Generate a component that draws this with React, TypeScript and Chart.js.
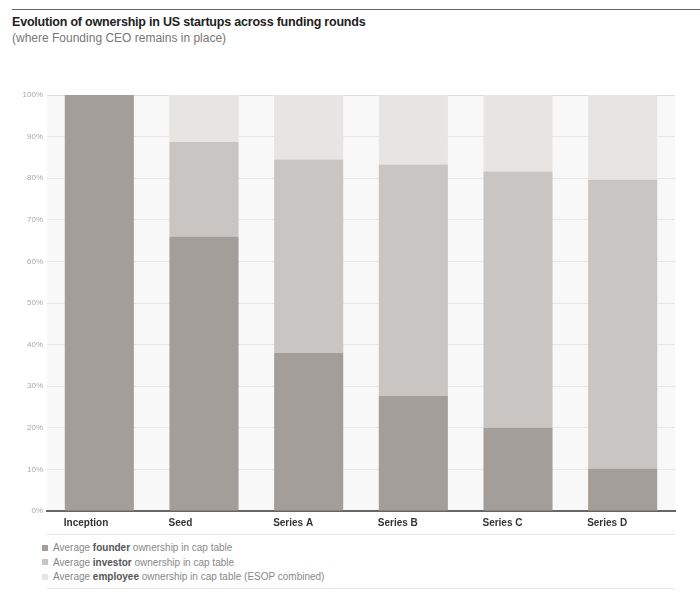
import React, { useEffect, useRef } from "react";
import { Chart, registerables } from "chart.js";

Chart.register(...registerables);

const categories = ["Inception", "Seed", "Series A", "Series B", "Series C", "Series D"];
const founderShare = [100, 66, 38, 27.7, 20, 10.2];
const investorShare = [0, 22.7, 46.5, 55.6, 61.6, 69.4];
const employeeShare = [0, 11.3, 15.5, 16.7, 18.4, 20.4];
const yTicks = [0, 10, 20, 30, 40, 50, 60, 70, 80, 90, 100];

const FONT = "'Liberation Sans', Arial, Helvetica, sans-serif";
const C_FOUNDER = "#a39e9a";
const C_INVESTOR = "#c9c5c2";
const C_EMPLOYEE = "#e6e5e4";

const bgPlugin = {
  id: "plotBg",
  beforeDraw(chart: any) {
    const { ctx, chartArea } = chart;
    ctx.save();
    ctx.fillStyle = "#f8f8f8";
    ctx.fillRect(chartArea.left, chartArea.top, chartArea.right - chartArea.left, chartArea.bottom - chartArea.top);
    ctx.restore();
  },
};

const labelPlugin = {
  id: "leftLabels",
  afterDraw(chart: any) {
    const { ctx, chartArea } = chart;
    const meta = chart.getDatasetMeta(0);
    ctx.save();
    ctx.font = `bold 10px ${FONT}`;
    ctx.fillStyle = "#333333";
    ctx.textAlign = "left";
    ctx.textBaseline = "middle";
    meta.data.forEach((bar: any, i: number) => {
      const x = bar.x - bar.width / 2;
      ctx.fillText(categories[i], x - 1, chartArea.bottom + 12);
    });
    ctx.strokeStyle = "#e6e6e6";
    ctx.lineWidth = 1;
    ctx.beginPath();
    ctx.moveTo(chartArea.left, chartArea.bottom + 23.5);
    ctx.lineTo(chartArea.right, chartArea.bottom + 23.5);
    ctx.stroke();
    ctx.restore();
  },
};

function App() {
  const ref = useRef<HTMLCanvasElement | null>(null);

  useEffect(() => {
    if (!ref.current) return;
    const chart = new Chart(ref.current, {
      type: "bar",
      data: {
        labels: categories,
        datasets: [
          { label: "founder", data: founderShare, backgroundColor: C_FOUNDER },
          { label: "investor", data: investorShare, backgroundColor: C_INVESTOR },
          { label: "employee", data: employeeShare, backgroundColor: C_EMPLOYEE },
        ],
      },
      options: {
        responsive: false,
        animation: false,
        layout: { padding: { top: 95, right: 25, left: 0, bottom: 0 } },
        plugins: { legend: { display: false }, tooltip: { enabled: false } },
        datasets: { bar: { barPercentage: 0.66, categoryPercentage: 1, borderWidth: 0 } },
        scales: {
          x: {
            stacked: true,
            grid: { display: false },
            border: { display: true, color: "#666666", width: 2 },
            ticks: { display: false },
            afterFit: (s: any) => {
              s.height = 29;
            },
          },
          y: {
            stacked: true,
            min: 0,
            max: 100,
            z: 1,
            afterBuildTicks: (s: any) => {
              s.ticks = yTicks.map((v) => ({ value: v }));
            },
            afterFit: (s: any) => {
              s.width = 47;
            },
            border: { display: false },
            grid: {
              color: (c: any) => (c.tick && c.tick.value === 100 ? "rgba(0,0,0,0.1)" : "rgba(0,0,0,0.07)"),
              lineWidth: 1,
              drawTicks: false,
            },
            ticks: {
              padding: 4,
              color: "#a8a8a8",
              font: { family: FONT, size: 8 },
              callback: (v: any) => `${v}%`,
            },
          },
        },
      },
      plugins: [bgPlugin, labelPlugin],
    });
    return () => chart.destroy();
  }, []);

  const legendRows = [
    { color: C_FOUNDER, pre: "Average ", bold: "founder", post: " ownership in cap table" },
    { color: C_INVESTOR, pre: "Average ", bold: "investor", post: " ownership in cap table" },
    { color: C_EMPLOYEE, pre: "Average ", bold: "employee", post: " ownership in cap table (ESOP combined)" },
  ];

  return (
    <div style={{ position: "absolute", left: 0, top: 0, width: 700, height: 606, background: "#fff", fontFamily: FONT }}>
      <div style={{ position: "absolute", left: 12, right: 0, top: 8.5, height: 1.5, background: "#666" }} />
      <div style={{ position: "absolute", left: 12, top: 15, fontSize: 12.5, fontWeight: "bold", color: "#222", whiteSpace: "nowrap", letterSpacing: -0.2 }}>
        Evolution of ownership in US startups across funding rounds
      </div>
      <div style={{ position: "absolute", left: 12, top: 31, fontSize: 12, color: "#777", whiteSpace: "nowrap" }}>
        (where Founding CEO remains in place)
      </div>
      <canvas ref={ref} width={700} height={540} style={{ position: "absolute", left: 0, top: 0, width: 700, height: 540 }} />
      {legendRows.map((r, i) => (
        <div key={i} style={{ position: "absolute", left: 42, top: 541 + i * 14.5, height: 13, display: "flex", alignItems: "center", whiteSpace: "nowrap" }}>
          <span style={{ display: "inline-block", width: 6, height: 6, background: r.color, marginRight: 5 }} />
          <span style={{ fontSize: 10, color: "#888" }}>
            {r.pre}
            <b style={{ color: "#555" }}>{r.bold}</b>
            {r.post}
          </span>
        </div>
      ))}
      <div style={{ position: "absolute", left: 47, width: 628, top: 588, height: 1, background: "#e6e6e6" }} />
    </div>
  );
}

export default App;
